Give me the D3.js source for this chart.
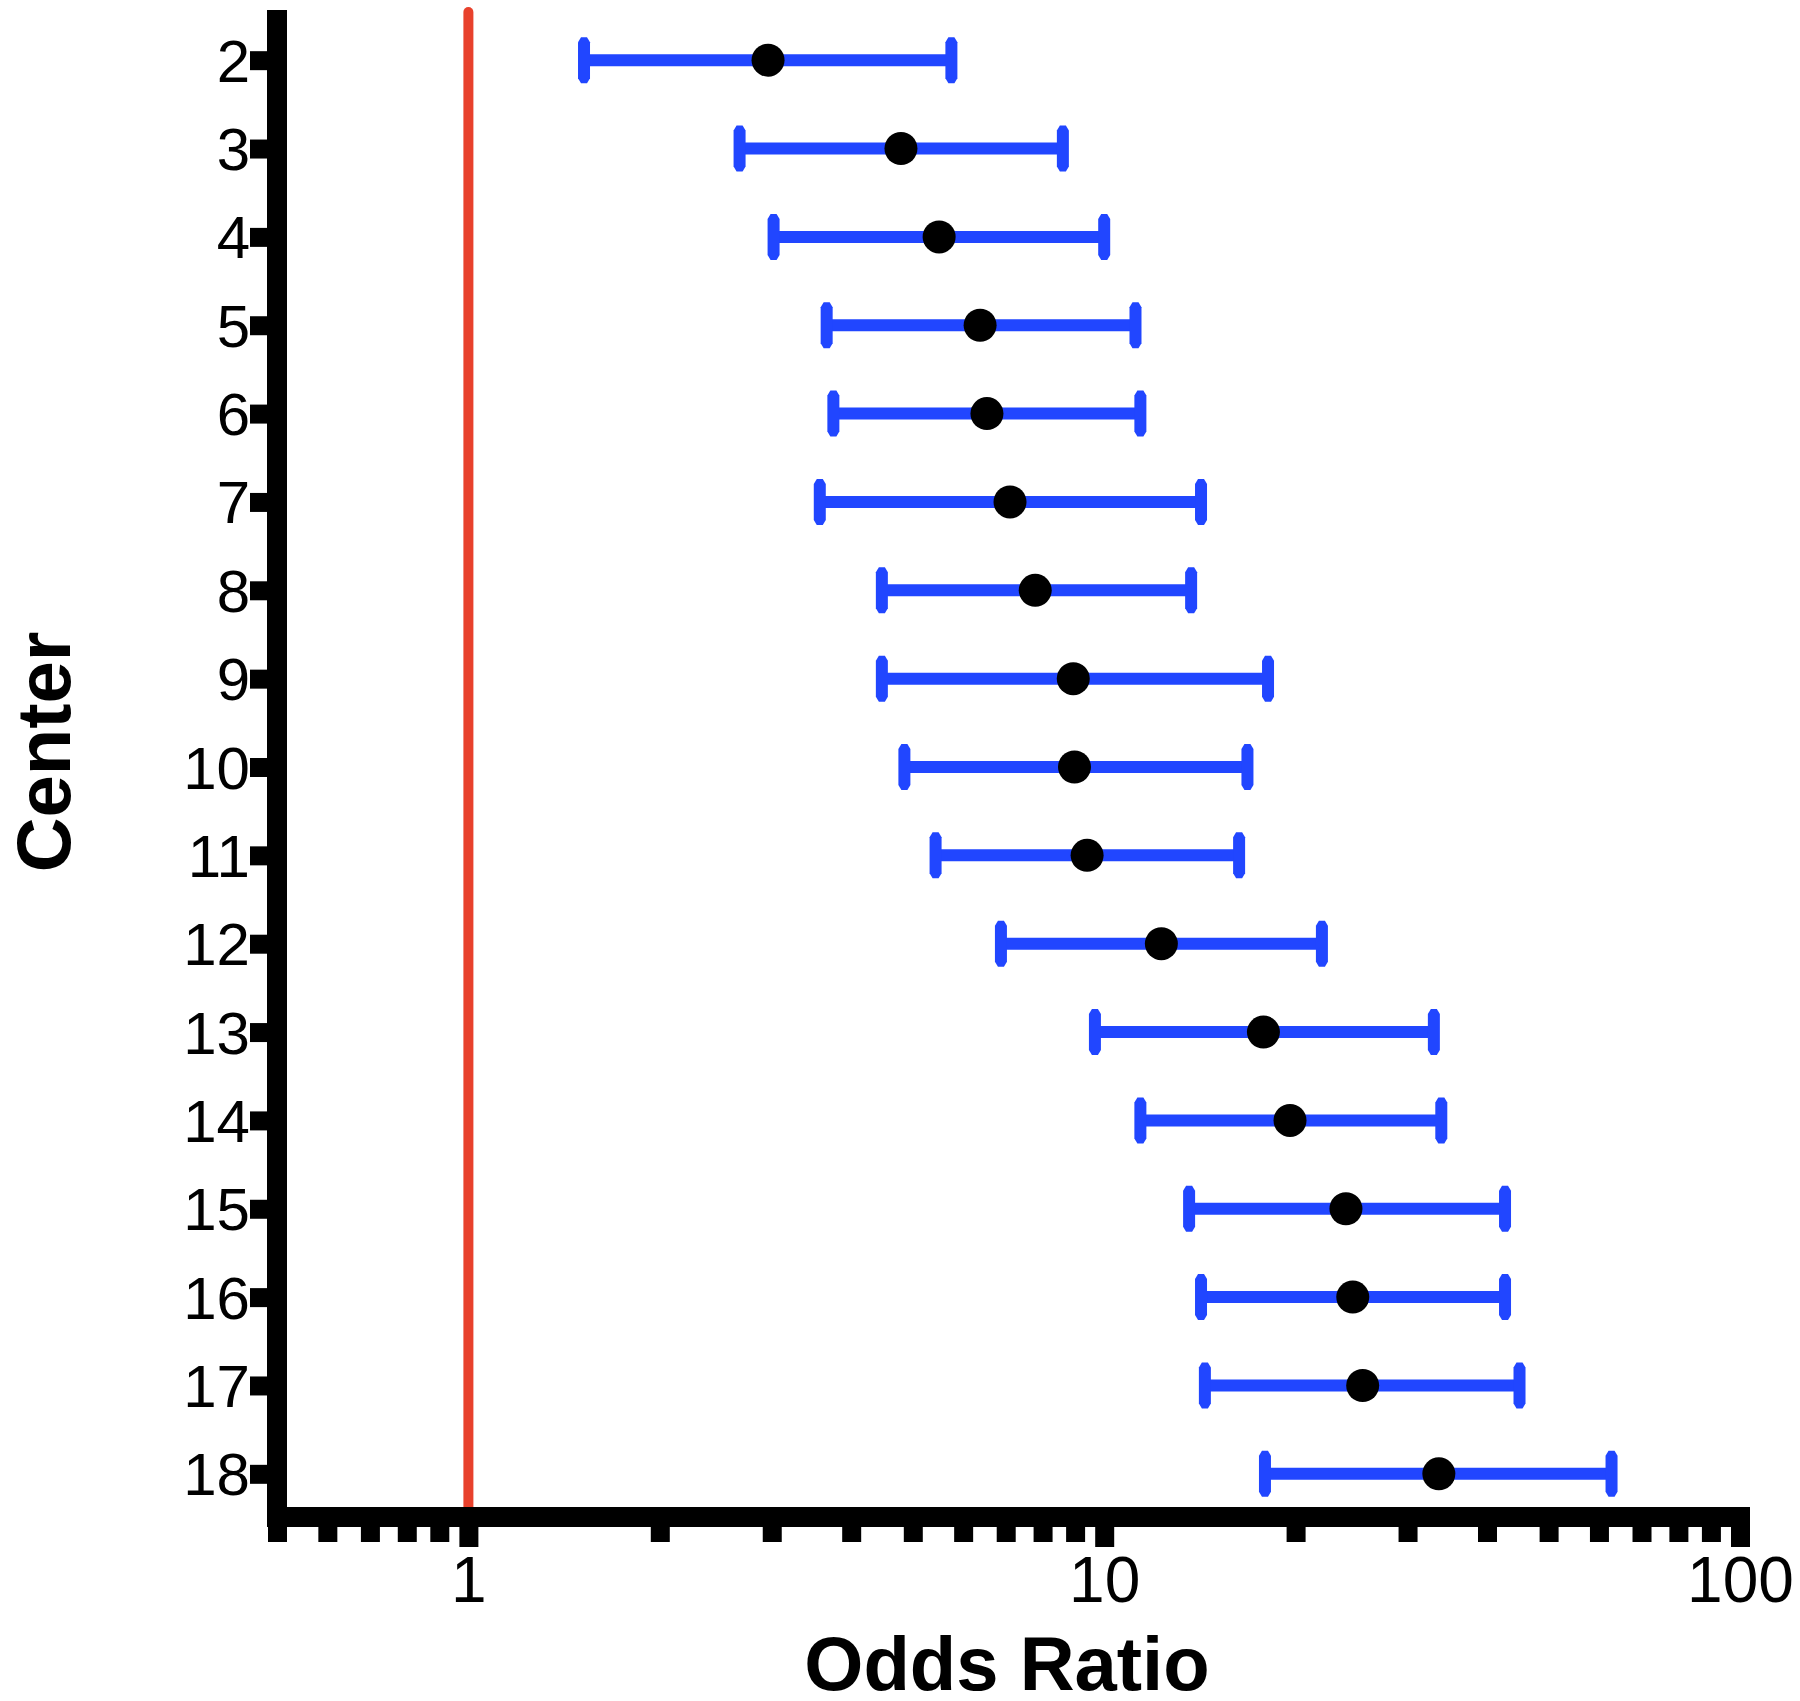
<!DOCTYPE html>
<html>
<head>
<meta charset="utf-8">
<script src="https://cdn.jsdelivr.net/npm/d3@7"></script>
<style>
  body { margin: 0; background: #fff; }
  svg { display: block; font-family: "Liberation Sans", Arial, sans-serif; }
</style>
</head>
<body>
<script>
// data
const centers = [2, 3, 4, 5, 6, 7, 8, 9, 10, 11, 12, 13, 14, 15, 16, 17, 18];
const oddsRatio = [2.96, 4.79, 5.50, 6.38, 6.54, 7.11, 7.79, 8.94, 8.98, 9.40, 12.3, 17.8, 19.6, 24.0, 24.6, 25.5, 33.6];
const lowerCI = [1.52, 2.67, 3.02, 3.66, 3.75, 3.57, 4.47, 4.47, 4.85, 5.43, 6.88, 9.67, 11.4, 13.6, 14.2, 14.4, 17.9];
const upperCI = [5.75, 8.61, 10.0, 11.2, 11.4, 14.2, 13.7, 18.1, 16.8, 16.3, 22.0, 33.0, 33.9, 42.7, 42.7, 45.0, 62.8];
const majorTicks = [1, 10, 100];
const minorTicks = [0.5, 0.6, 0.7, 0.8, 0.9, 2, 3, 4, 5, 6, 7, 8, 9, 20, 30, 40, 50, 60, 70, 80, 90];
const refLine = 1;

const rows = centers.map((c, i) => ({c, or: oddsRatio[i], lo: lowerCI[i], hi: upperCI[i]}));

const width = 1800, height = 1701;
const blue = '#2146ff', red = '#e8412c';

let svg = d3.select('body').append('svg')
  .attr('width', width)
  .attr('height', height);

let x = d3.scaleLog()
  .domain([0.5, 100])
  .range([277, 1740]);

let y = d3.scaleLinear()
  .domain([1.5, 18.5])
  .range([16, 1518]);

const axisY = 1517;

// reference line at OR = 1
svg.append('line')
  .attr('x1', x(refLine)).attr('x2', x(refLine))
  .attr('y1', 12).attr('y2', axisY)
  .attr('stroke', red)
  .attr('stroke-width', 10)
  .attr('stroke-linecap', 'round');

// minor ticks on x
let minorAxis = svg.append('g')
  .attr('transform', `translate(0,${axisY})`)
  .call(d3.axisBottom(x).tickValues(minorTicks).tickSize(25).tickFormat(''));
minorAxis.select('.domain').remove();
minorAxis.selectAll('line').attr('stroke', '#000').attr('stroke-width', 19);

// major ticks + labels on x
let majorAxis = svg.append('g')
  .attr('transform', `translate(0,${axisY})`)
  .call(d3.axisBottom(x).tickValues(majorTicks).tickSize(30).tickPadding(10).tickFormat(d3.format('d')));
majorAxis.select('.domain').remove();
majorAxis.selectAll('line').attr('stroke', '#000').attr('stroke-width', 19);
majorAxis.selectAll('text')
  .attr('font-size', 64)
  .attr('font-family', '"Liberation Sans", Arial, sans-serif')
  .attr('fill', '#000');

// x axis line
svg.append('line')
  .attr('x1', x(0.5) - 10).attr('x2', x(100) + 10)
  .attr('y1', axisY).attr('y2', axisY)
  .attr('stroke', '#000')
  .attr('stroke-width', 20);

// y axis
let yAxis = svg.append('g')
  .attr('transform', `translate(${x(0.5)},0)`)
  .call(d3.axisLeft(y).tickValues(centers).tickSize(27).tickPadding(0));
yAxis.select('.domain').remove();
yAxis.selectAll('line').attr('stroke', '#000').attr('stroke-width', 19);
yAxis.selectAll('text')
  .attr('font-size', 60)
  .attr('font-family', '"Liberation Sans", Arial, sans-serif')
  .attr('fill', '#000')
  .attr('dy', '0.35em');

svg.append('line')
  .attr('x1', x(0.5)).attr('x2', x(0.5))
  .attr('y1', 10).attr('y2', axisY + 10)
  .attr('stroke', '#000')
  .attr('stroke-width', 20);

// error bars
let bars = svg.append('g').attr('class', 'bars');

bars.selectAll('line.ci')
  .data(rows)
  .enter()
  .append('line')
  .attr('class', 'ci')
  .attr('x1', d => x(d.lo))
  .attr('x2', d => x(d.hi))
  .attr('y1', d => y(d.c))
  .attr('y2', d => y(d.c))
  .attr('stroke', blue)
  .attr('stroke-width', 12);

// caps with slightly pointed ends
function capPath(cx, cy) {
  return `M${cx - 6},${cy - 18} L${cx - 3},${cy - 23} L${cx + 3},${cy - 23} L${cx + 6},${cy - 18}
          L${cx + 6},${cy + 18} L${cx + 3},${cy + 23} L${cx - 3},${cy + 23} L${cx - 6},${cy + 18} Z`;
}

let caps = rows.flatMap(d => [{v: d.lo, c: d.c}, {v: d.hi, c: d.c}]);
bars.selectAll('path.cap')
  .data(caps)
  .enter()
  .append('path')
  .attr('class', 'cap')
  .attr('d', d => capPath(x(d.v), y(d.c)))
  .attr('fill', blue);

// point estimates
svg.append('g')
  .selectAll('circle')
  .data(rows)
  .enter()
  .append('circle')
  .attr('cx', d => x(d.or))
  .attr('cy', d => y(d.c))
  .attr('r', 16.5)
  .attr('fill', '#000');

// axis titles
svg.append('text')
  .attr('x', 1007)
  .attr('y', 1690)
  .attr('text-anchor', 'middle')
  .attr('font-size', 76)
  .attr('font-weight', 'bold')
  .text('Odds Ratio');

svg.append('text')
  .attr('transform', 'translate(70,752) rotate(-90)')
  .attr('text-anchor', 'middle')
  .attr('font-size', 76)
  .attr('font-weight', 'bold')
  .text('Center');
</script>
</body>
</html>
